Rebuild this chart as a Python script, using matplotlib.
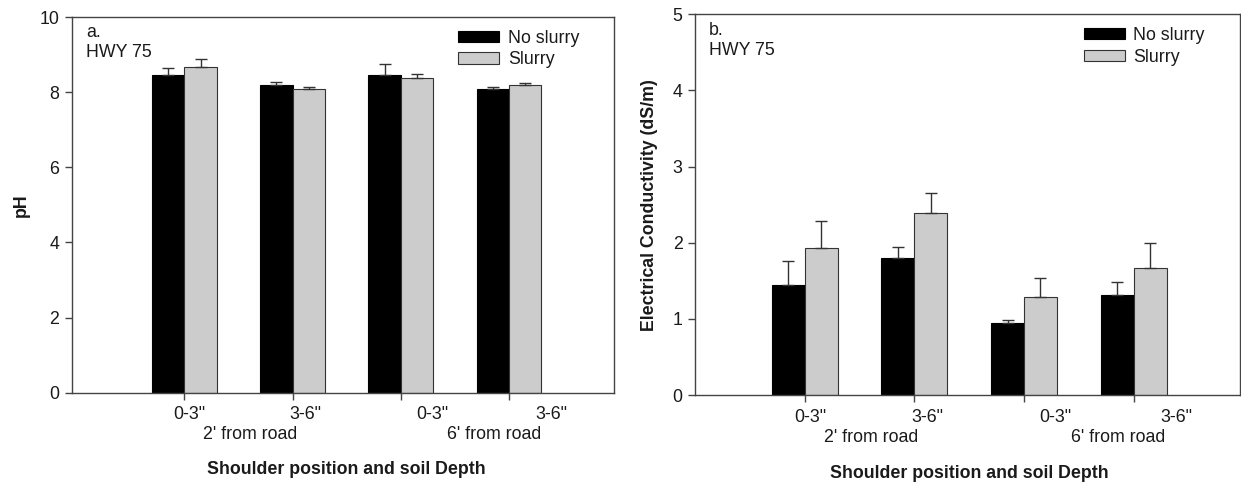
import matplotlib
matplotlib.use("Agg")
import matplotlib.pyplot as plt
import numpy as np

plt.rcParams['font.family'] = ['Liberation Sans', 'DejaVu Sans']

groups = [1, 2, 3, 4]
depth_labels = ['0-3"', '3-6"', '0-3"', '3-6"']
depth_label_pos = [1.05, 2.12, 3.29, 4.39]
road_labels = ["2' from road", "6' from road"]
road_label_pos = [1.61, 3.86]
series_names = ['No slurry', 'Slurry']

ph_noslurry = [8.45, 8.18, 8.45, 8.08]
ph_noslurry_err = [0.20, 0.10, 0.30, 0.05]
ph_slurry = [8.68, 8.08, 8.38, 8.18]
ph_slurry_err = [0.20, 0.05, 0.10, 0.07]

ec_noslurry = [1.45, 1.80, 0.94, 1.31]
ec_noslurry_err = [0.31, 0.15, 0.05, 0.17]
ec_slurry = [1.93, 2.39, 1.29, 1.67]
ec_slurry_err = [0.36, 0.26, 0.25, 0.33]

W, H = 1241, 487
fig = plt.figure(figsize=(W / 100, H / 100), dpi=100)

def frac(x0, y0, x1, y1):
    return [x0 / W, 1 - y1 / H, (x1 - x0) / W, (y1 - y0) / H]

ax1 = fig.add_axes(frac(71.7, 17.0, 614, 392.7))
ax2 = fig.add_axes(frac(695, 14.3, 1240, 395.0))

FS = 12.8
bw = 0.30
gray = '#cccccc'
spine_c = '#444444'
txt_c = '#1a1a1a'

def panel(ax, a, aerr, b, berr, ylim, yticks, ylabel, letter, xlim):
    x = np.array(groups, dtype=float)
    ax.bar(x - bw / 2, a, bw, color='black', edgecolor='black', linewidth=0.8,
           label=series_names[0], zorder=2)
    ax.bar(x + bw / 2, b, bw, color=gray, edgecolor='#333333', linewidth=0.8,
           label=series_names[1], zorder=2)
    ax.errorbar(x - bw / 2, a, yerr=[np.zeros(4), aerr], fmt='none',
                ecolor='#333333', elinewidth=1.0, capsize=4, capthick=1.0, zorder=3)
    ax.errorbar(x + bw / 2, b, yerr=[np.zeros(4), berr], fmt='none',
                ecolor='#333333', elinewidth=1.0, capsize=4, capthick=1.0, zorder=3)
    ax.set_xlim(*xlim)
    ax.set_ylim(*ylim)
    ax.set_yticks(yticks)
    ax.set_yticklabels([str(t) for t in yticks], fontsize=FS, color=txt_c)
    ax.set_xticks(groups)
    ax.set_xticklabels([])
    ax.tick_params(axis='both', direction='out', length=5, width=1, color=spine_c, pad=4)
    for s in ax.spines.values():
        s.set_color(spine_c)
        s.set_linewidth(1.0)
    trans = ax.get_xaxis_transform()
    for p, lab in zip(depth_label_pos, depth_labels):
        ax.text(p, -0.058, lab, transform=trans, ha='center', va='center',
                fontsize=FS, color=txt_c)
    for p, lab in zip(road_label_pos, road_labels):
        ax.text(p, -0.112, lab, transform=trans, ha='center', va='center',
                fontsize=FS, color=txt_c)
    ax.text(2.5, -0.205, 'Shoulder position and soil Depth', transform=trans,
            ha='center', va='center', fontsize=FS, fontweight='bold', color=txt_c)
    ax.set_ylabel(ylabel, fontsize=FS, fontweight='bold', color=txt_c)
    ax.text(0.026, 0.958, letter, transform=ax.transAxes, ha='left', va='center',
            fontsize=FS, color=txt_c)
    ax.text(0.026, 0.905, 'HWY 75', transform=ax.transAxes, ha='left', va='center',
            fontsize=FS, color=txt_c)
    ax.legend(loc='upper left', bbox_to_anchor=(0.70, 0.985), frameon=False,
              fontsize=FS, handlelength=2.3, handleheight=0.6,
              handletextpad=0.5, labelspacing=0.25, borderaxespad=0,
              labelcolor=txt_c)
    return ax

panel(ax1, ph_noslurry, ph_noslurry_err, ph_slurry, ph_slurry_err,
      (0, 10), [0, 2, 4, 6, 8, 10], 'pH', 'a.', (-0.04, 4.97))
panel(ax2, ec_noslurry, ec_noslurry_err, ec_slurry, ec_slurry_err,
      (0, 5), [0, 1, 2, 3, 4, 5], 'Electrical Conductivity (dS/m)', 'b.', (0.0, 4.97))

ax1.yaxis.set_label_coords(-0.077, 0.5)
ax2.yaxis.set_label_coords(-0.068, 0.5)

fig.savefig('out.png', dpi=100)
